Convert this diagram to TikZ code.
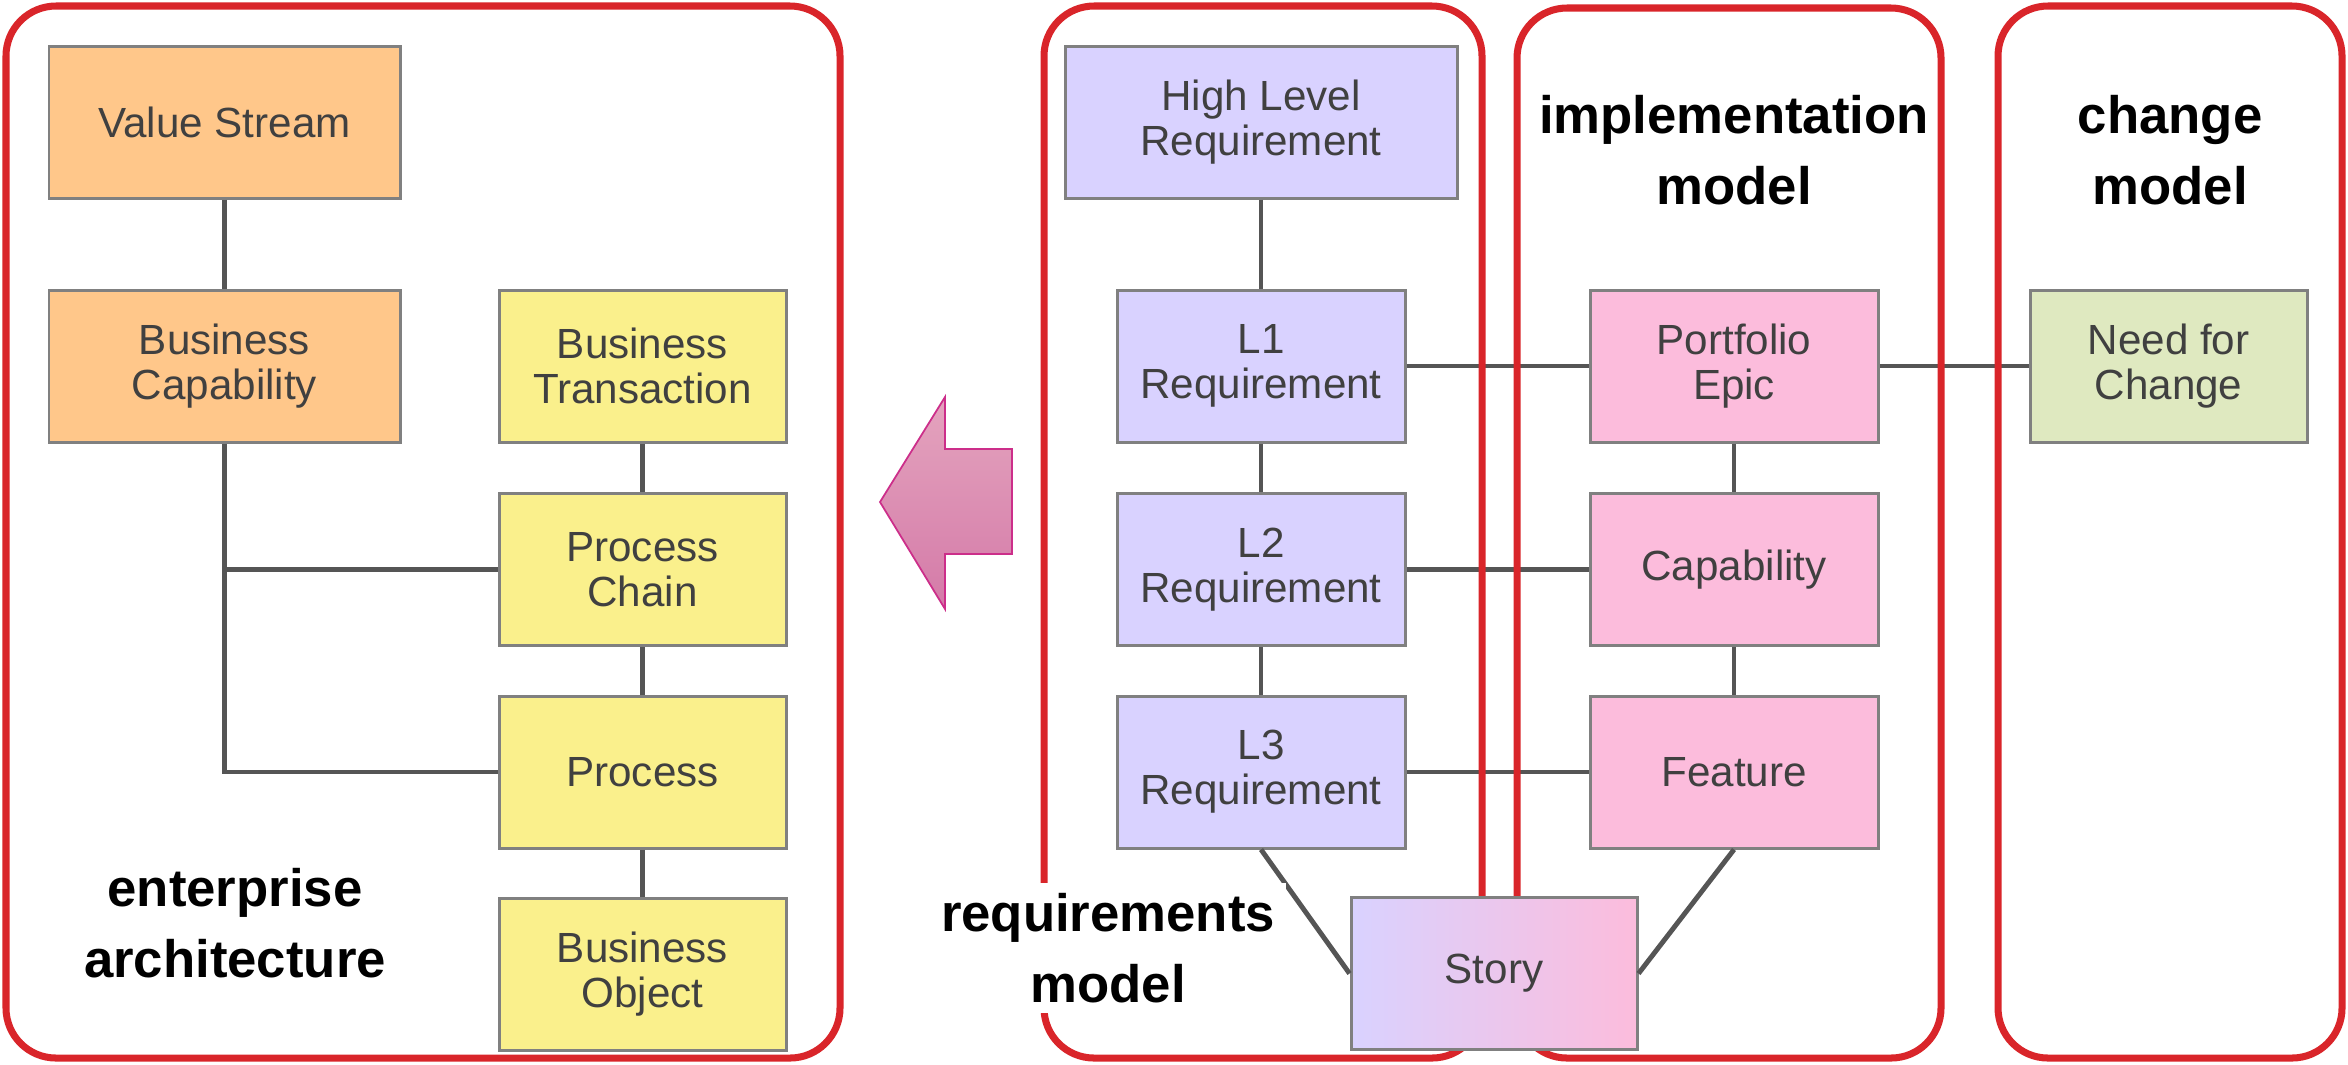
\documentclass[tikz,border=0pt]{standalone}
\usepackage{fontspec}
\setmainfont{Liberation Sans}
\usepackage{tikz}
\usetikzlibrary{shapes}
\usetikzlibrary{scopes}

\definecolor{txtgray}{HTML}{404040}
\definecolor{boxgray}{HTML}{808080}
\definecolor{linegray}{HTML}{555555}
\definecolor{framered}{HTML}{D9252A}
\definecolor{eaorange}{HTML}{FFC78A}
\definecolor{eayellow}{HTML}{FAF08C}
\definecolor{reqlav}{HTML}{D9D2FF}
\definecolor{implpink}{HTML}{FCBCDC}
\definecolor{chggreen}{HTML}{DFE9C0}
\definecolor{arrowtop}{HTML}{E4A4BE}
\definecolor{arrowbot}{HTML}{D47AA8}
\definecolor{arrowedge}{HTML}{CC2E8A}

\tikzset{
 box/.style={draw=boxgray, line width=0.85pt, inner sep=0pt, minimum height=1.52cm,
  align=center, text=txtgray, font=\fontsize{12}{12.8}\selectfont},
 link/.style={draw=linegray, line width=1.4pt},
 frame/.style={draw=framered, line width=2pt, rounded corners=0.5cm},
 title/.style={align=center, text=black, font=\fontsize{15}{20}\selectfont\bfseries}
}

\begin{document}
\begin{tikzpicture}[x=1cm,y=-1cm]
 \useasboundingbox (0,0) rectangle (23.48,10.64);

 % enterprise architecture
 \node[box, fill=eaorange, minimum width=3.51cm] (valstream) at (2.245,1.22) {Value Stream};
 \node[box, fill=eaorange, minimum width=3.51cm] (buscap) at (2.245,3.66) {Business\\Capability};
 \node[box, fill=eayellow, minimum width=2.87cm] (bustrans) at (6.425,3.66) {Business\\Transaction};
 \node[box, fill=eayellow, minimum width=2.87cm] (prochain) at (6.425,5.695) {Process\\Chain};
 \node[box, fill=eayellow, minimum width=2.87cm] (process) at (6.425,7.72) {Process};
 \node[box, fill=eayellow, minimum width=2.87cm] (busobj) at (6.425,9.74) {Business\\Object};

 % requirements, implementation, change
 \node[box, fill=reqlav, minimum width=3.92cm] (hlreq) at (12.61,1.22) {High Level\\Requirement};
 \node[box, fill=reqlav, minimum width=2.88cm] (lonereq) at (12.61,3.66) {L1\\Requirement};
 \node[box, fill=reqlav, minimum width=2.88cm] (ltworeq) at (12.61,5.695) {L2\\Requirement};
 \node[box, fill=reqlav, minimum width=2.88cm] (lthreereq) at (12.61,7.72) {L3\\Requirement};
 \node[box, fill=implpink, minimum width=2.88cm] (epic) at (17.34,3.66) {Portfolio\\Epic};
 \node[box, fill=implpink, minimum width=2.88cm] (capab) at (17.34,5.695) {Capability};
 \node[box, fill=implpink, minimum width=2.88cm] (feature) at (17.34,7.72) {Feature};
 \node[box, fill=chggreen, minimum width=2.77cm] (needchg) at (21.685,3.66) {Need for\\Change};

 \draw[link] (valstream) -- (buscap);
 \draw[link] (buscap.south) |- (process.west);
 \draw[link] (buscap.south |- prochain.west) -- (prochain.west);
 \draw[link] (bustrans) -- (prochain);
 \draw[link] (prochain) -- (process);
 \draw[link] (process) -- (busobj);
 \draw[link] (hlreq) -- (lonereq);
 \draw[link] (lonereq) -- (ltworeq);
 \draw[link] (ltworeq) -- (lthreereq);
 \draw[link] (epic) -- (capab);
 \draw[link] (capab) -- (feature);
 \draw[link] (lonereq) -- (epic);
 \draw[link] (epic) -- (needchg);
 \draw[link] (ltworeq) -- (capab);
 \draw[link] (lthreereq) -- (feature);

 % frames
 \draw[frame] (0.06,0.06) rectangle (8.40,10.58);
 \draw[frame] (10.44,0.06) rectangle (14.82,10.58);
 \draw[frame] (15.17,0.08) rectangle (19.41,10.58);
 \draw[frame] (19.98,0.06) rectangle (23.42,10.58);

 \node[box, left color=reqlav, right color=implpink, minimum width=2.86cm] (story) at (14.94,9.735) {Story};
 \draw[link] (lthreereq.south) -- (story.west);
 \draw[link] (feature.south) -- (story.east);

 % big arrow
 \shade[top color=arrowtop, bottom color=arrowbot, draw=arrowedge, line width=0.5pt]
  (8.80,5.02) -- (9.45,3.97) -- (9.45,4.49) -- (10.12,4.49) -- (10.12,5.54)
  -- (9.45,5.54) -- (9.45,6.09) -- cycle;

 \node[title] (eatitle) at (2.35,9.23) {enterprise\\architecture};
 \node[title, fill=white, inner sep=3pt] (reqtitle) at (11.08,9.48) {requirements\\model};
 \node[title] (impltitle) at (17.34,1.50) {implementation\\model};
 \node[title] (chgtitle) at (21.70,1.50) {change\\model};
\end{tikzpicture}
\end{document}
